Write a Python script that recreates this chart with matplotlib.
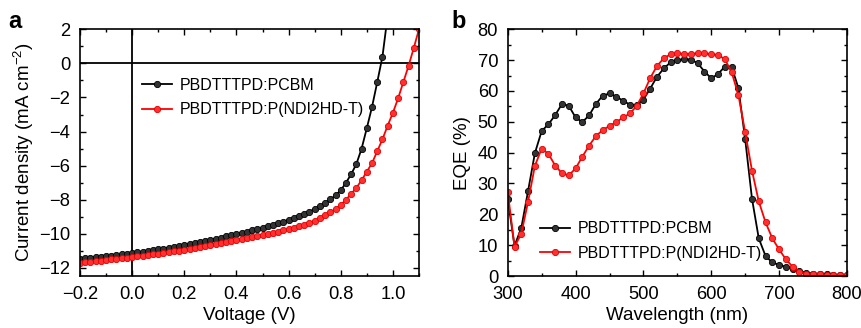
import matplotlib
matplotlib.use("Agg")
import matplotlib.pyplot as plt
from matplotlib.ticker import MultipleLocator

plt.rcParams['font.family'] = ['Liberation Sans', 'DejaVu Sans']
plt.rcParams['mathtext.default'] = 'regular'

# ---------------- Panel a data: J-V ----------------
voltage_pcbm = [-0.20, -0.18, -0.16, -0.14, -0.12, -0.10, -0.08, -0.06, -0.04, -0.02,
                0.00, 0.02, 0.04, 0.06, 0.08, 0.10, 0.12, 0.14, 0.16, 0.18,
                0.20, 0.22, 0.24, 0.26, 0.28, 0.30, 0.32, 0.34, 0.36, 0.38,
                0.40, 0.42, 0.44, 0.46, 0.48, 0.50, 0.52, 0.54, 0.56, 0.58,
                0.60, 0.62, 0.64, 0.66, 0.68, 0.70, 0.72, 0.74, 0.76, 0.78,
                0.80, 0.82, 0.84, 0.86, 0.88, 0.90, 0.92, 0.94, 0.96, 0.98]
j_pcbm = [-11.45, -11.42, -11.39, -11.36, -11.33, -11.30, -11.27, -11.23, -11.20, -11.17,
          -11.13, -11.09, -11.05, -11.01, -10.96, -10.91, -10.86, -10.81, -10.76, -10.70,
          -10.64, -10.58, -10.52, -10.46, -10.40, -10.34, -10.28, -10.22, -10.15, -10.08,
          -10.01, -9.94, -9.87, -9.80, -9.73, -9.65, -9.56, -9.47, -9.38, -9.28,
          -9.17, -9.06, -8.95, -8.83, -8.69, -8.54, -8.38, -8.20, -7.98, -7.74,
          -7.45, -7.00, -6.50, -5.90, -5.00, -3.80, -2.55, -1.10, 0.40, 2.80]

voltage_ndi = [-0.20, -0.18, -0.16, -0.14, -0.12, -0.10, -0.08, -0.06, -0.04, -0.02,
               0.00, 0.02, 0.04, 0.06, 0.08, 0.10, 0.12, 0.14, 0.16, 0.18,
               0.20, 0.22, 0.24, 0.26, 0.28, 0.30, 0.32, 0.34, 0.36, 0.38,
               0.40, 0.42, 0.44, 0.46, 0.48, 0.50, 0.52, 0.54, 0.56, 0.58,
               0.60, 0.62, 0.64, 0.66, 0.68, 0.70, 0.72, 0.74, 0.76, 0.78,
               0.80, 0.82, 0.84, 0.86, 0.88, 0.90, 0.92, 0.94, 0.96, 0.98,
               1.00, 1.02, 1.04, 1.06, 1.08, 1.10]
j_ndi = [-11.70, -11.67, -11.64, -11.60, -11.57, -11.54, -11.50, -11.47, -11.43, -11.40,
         -11.36, -11.32, -11.28, -11.24, -11.20, -11.16, -11.12, -11.07, -11.03, -10.98,
         -10.93, -10.88, -10.82, -10.77, -10.71, -10.66, -10.60, -10.54, -10.48, -10.42,
         -10.36, -10.30, -10.24, -10.18, -10.12, -10.06, -10.00, -9.93, -9.86, -9.79,
         -9.72, -9.64, -9.56, -9.46, -9.35, -9.22, -9.08, -8.92, -8.74, -8.53,
         -8.30, -8.00, -7.65, -7.30, -6.85, -6.35, -5.85, -5.15, -4.45, -3.65,
         -2.90, -2.05, -1.10, -0.15, 0.90, 2.00]

# ---------------- Panel b data: EQE ----------------
wavelength = [300, 310, 320, 330, 340, 350, 360, 370, 380, 390,
              400, 410, 420, 430, 440, 450, 460, 470, 480, 490,
              500, 510, 520, 530, 540, 550, 560, 570, 580, 590,
              600, 610, 620, 630, 640, 650, 660, 670, 680, 690,
              700, 710, 720, 730, 740, 750, 760, 770, 780, 790, 800]
eqe_pcbm = [25.0, 9.8, 15.6, 27.6, 39.8, 47.0, 49.2, 52.2, 55.8, 55.2,
            51.4, 49.9, 52.1, 55.8, 58.5, 59.2, 58.2, 56.8, 55.6, 55.3,
            57.2, 60.8, 64.6, 67.3, 69.3, 70.0, 70.3, 70.2, 69.0, 66.3,
            64.1, 65.5, 67.9, 67.9, 60.9, 44.3, 25.1, 12.2, 6.5, 4.4,
            3.6, 3.0, 2.2, 1.6, 1.1, 0.8, 0.6, 0.5, 0.4, 0.3, 0.3]
eqe_ndi = [27.3, 9.5, 13.7, 24.1, 35.7, 41.3, 39.6, 35.8, 33.3, 32.6,
           34.9, 38.7, 42.3, 45.4, 47.3, 48.7, 49.9, 51.4, 52.7, 55.1,
           59.2, 64.2, 68.1, 70.6, 71.9, 72.2, 72.0, 72.0, 72.2, 72.2,
           71.9, 71.7, 70.3, 66.1, 58.7, 46.6, 34.2, 24.2, 17.4, 12.2,
           8.6, 5.4, 3.0, 1.4, 0.6, 0.6, 0.5, 0.4, 0.4, 0.4, 0.4]

label_pcbm = 'PBDTTTPD:PCBM'
label_ndi = 'PBDTTTPD:P(NDI2HD-T)'

fig = plt.figure(figsize=(8.61, 3.28), dpi=100)
ax1 = fig.add_axes([0.0929, 0.1585, 0.3937, 0.7522])
ax2 = fig.add_axes([0.5897, 0.1585, 0.3940, 0.7522])

mk = dict(marker='o', markersize=4.5, markeredgewidth=0.6, linewidth=1.3)

def style(ax):
    for s in ax.spines.values():
        s.set_linewidth(1.2)
    ax.tick_params(which='both', direction='in', top=True, right=True, labelsize=13.2,
                   width=1.0)
    ax.tick_params(which='major', length=4.5)
    ax.tick_params(axis='x', which='major', pad=7)
    ax.tick_params(axis='y', which='major', pad=7)
    ax.tick_params(which='minor', length=2.5)

# panel a
ax1.axhline(0, color='black', linewidth=1.3, zorder=1)
ax1.axvline(0, color='black', linewidth=1.3, zorder=1)
ax1.plot(voltage_pcbm, j_pcbm, color='black', markerfacecolor='#333333',
         markeredgecolor='black', label=label_pcbm, **mk)
ax1.plot(voltage_ndi, j_ndi, color='#ff0000', markerfacecolor='#ff3030',
         markeredgecolor='#e00000', label=label_ndi, **mk)
ax1.set_xlim(-0.2, 1.1)
ax1.set_ylim(-12.47, 2)
ax1.xaxis.set_minor_locator(MultipleLocator(0.1))
ax1.yaxis.set_major_locator(MultipleLocator(2))
ax1.yaxis.set_minor_locator(MultipleLocator(1))
ax1.set_xticks([-0.2, 0.0, 0.2, 0.4, 0.6, 0.8, 1.0])
ax1.set_xticklabels(['\u22120.2', '0.0', '0.2', '0.4', '0.6', '0.8', '1.0'])
style(ax1)
ax1.set_xlabel('Voltage (V)', fontsize=13.5, labelpad=3)
ax1.set_ylabel('Current density (mA cm$^{\u22122}$)', fontsize=13.5, labelpad=2)
ax1.legend(loc='upper left', bbox_to_anchor=(0.163, 0.83), frameon=False,
           fontsize=11.5, handlelength=1.9, handletextpad=0.5, labelspacing=0.6,
           borderaxespad=0)
fig.text(0.010, 0.935, 'a', fontsize=17, fontweight='bold', va='center', ha='left')

# panel b
ax2.plot(wavelength, eqe_pcbm, color='black', markerfacecolor='#333333',
         markeredgecolor='black', label=label_pcbm, **mk)
ax2.plot(wavelength, eqe_ndi, color='#ff0000', markerfacecolor='#ff3030',
         markeredgecolor='#e00000', label=label_ndi, **mk)
ax2.set_xlim(300, 800)
ax2.set_ylim(0, 80)
ax2.xaxis.set_major_locator(MultipleLocator(100))
ax2.xaxis.set_minor_locator(MultipleLocator(50))
ax2.yaxis.set_major_locator(MultipleLocator(10))
ax2.yaxis.set_minor_locator(MultipleLocator(5))
style(ax2)
ax2.set_xlabel('Wavelength (nm)', fontsize=13.5, labelpad=3)
ax2.set_ylabel('EQE (%)', fontsize=13.5, labelpad=5)
ax2.legend(loc='lower left', bbox_to_anchor=(0.075, 0.035), frameon=False,
           fontsize=11.5, handlelength=1.9, handletextpad=0.5, labelspacing=0.6,
           borderaxespad=0)
fig.text(0.524, 0.935, 'b', fontsize=17, fontweight='bold', va='center', ha='left')

fig.savefig('out.png', dpi=100)
